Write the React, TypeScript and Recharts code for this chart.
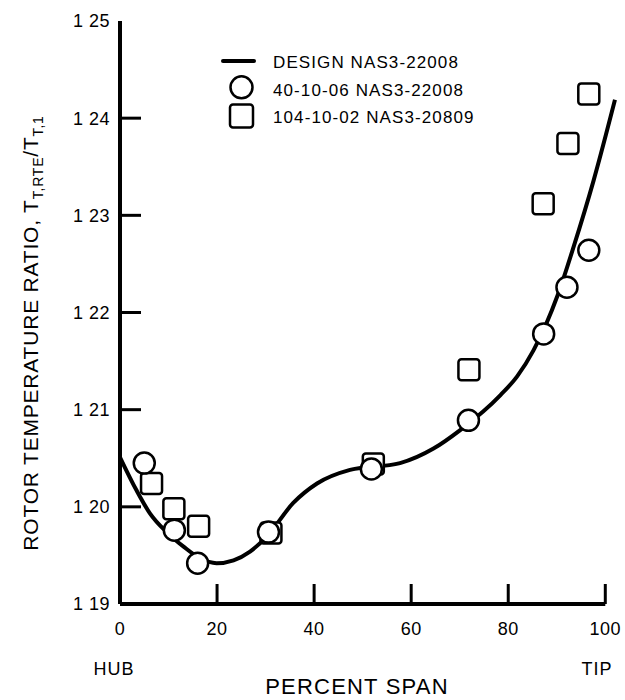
import React from "react";
import { ComposedChart, Line, Scatter, XAxis, YAxis, ReferenceLine, Legend } from "recharts";

// design curve, NAS3-22008
const designSpan = [0, 3.4, 6.2, 9.6, 13.1, 16.5, 19.9, 23.4, 26.8, 30.2, 35.7, 40.6, 47.4, 57.7, 64.6, 70.1, 78.4, 81.8, 85.2, 90.2, 93.5, 97.6, 102];
const designRatio = [1.2051, 1.2017, 1.1993, 1.1974, 1.1959, 1.1947, 1.1942, 1.1945, 1.1954, 1.1969, 1.2004, 1.2024, 1.2038, 1.2045, 1.206, 1.2079, 1.2115, 1.2134, 1.2161, 1.2218, 1.2268, 1.2336, 1.2419];

// 40-10-06 NAS3-22008 (circles)
const circleSpan = [5.0, 11.2, 16.0, 30.6, 51.8, 71.8, 87.3, 92.1, 96.6];
const circleRatio = [1.2045, 1.1976, 1.1942, 1.1974, 1.2039, 1.2089, 1.2178, 1.2226, 1.2264];

// 104-10-02 NAS3-20809 (squares)
const squareSpan = [6.5, 11.1, 16.2, 31.1, 52.2, 71.9, 87.2, 92.3, 96.6];
const squareRatio = [1.2024, 1.1998, 1.198, 1.1973, 1.2044, 1.2141, 1.2312, 1.2374, 1.2425];

const xTicks = [0, 20, 40, 60, 80, 100];
const yTicks = [1.19, 1.2, 1.21, 1.22, 1.23, 1.24, 1.25];

const legendItems = ["DESIGN NAS3-22008", "40-10-06 NAS3-22008", "104-10-02 NAS3-20809"];

const FONT = "'Liberation Sans', Arial, Helvetica, sans-serif";

const design = designSpan.map((x, i) => ({ x, y: designRatio[i] }));
const circles = circleSpan.map((x, i) => ({ x, y: circleRatio[i] }));
const squares = squareSpan.map((x, i) => ({ x, y: squareRatio[i] }));

// anchor points for the inward tick marks (drawn with a custom shape)
const xTickMarks = xTicks.filter((t) => t > 0).map((t) => ({ x: t, y: yTicks[0] }));
const yTickMarks = yTicks.filter((t, i) => i > 0 && i < yTicks.length - 1).map((t) => ({ x: xTicks[0], y: t }));

const tickFont = { fontSize: 18, fontFamily: FONT, fill: "#000", letterSpacing: 0.5 };

function YTitle() {
  const cx = 38;
  const cy = 333;
  return (
    <text
      x={cx}
      y={cy}
      transform={`rotate(-90 ${cx} ${cy})`}
      textAnchor="middle"
      fontSize={21}
      fontFamily={FONT}
      letterSpacing={0.8}
      fill="#000"
    >
      ROTOR TEMPERATURE RATIO, T
      <tspan dy={5} fontSize={14}>T,RTE</tspan>
      <tspan dy={-5}>/T</tspan>
      <tspan dy={5} fontSize={14}>T,1</tspan>
    </text>
  );
}

function XTitle() {
  return (
    <g fontFamily={FONT} fill="#000">
      <text x={114} y={675} textAnchor="middle" fontSize={18} letterSpacing={1}>
        HUB
      </text>
      <text x={597} y={675} textAnchor="middle" fontSize={18} letterSpacing={1}>
        TIP
      </text>
      <text x={357} y={694} textAnchor="middle" fontSize={22} letterSpacing={1.2}>
        PERCENT SPAN
      </text>
    </g>
  );
}

function CircleMark(props: any) {
  const { cx, cy } = props;
  return <circle cx={cx} cy={cy} r={10.5} fill="#fff" stroke="#000" strokeWidth={2.5} />;
}

function SquareMark(props: any) {
  const { cx, cy } = props;
  return <rect x={cx - 10.5} y={cy - 10.5} width={21} height={21} rx={3} fill="#fff" stroke="#000" strokeWidth={2.5} />;
}

function XTickMark(props: any) {
  const { cx, cy } = props;
  return <line x1={cx} x2={cx} y1={cy} y2={cy - 20} stroke="#000" strokeWidth={3} />;
}

function YTickMark(props: any) {
  const { cx, cy } = props;
  return <line x1={cx} x2={cx + 21} y1={cy} y2={cy} stroke="#000" strokeWidth={3} />;
}

function LegendBox() {
  const textX = 53;
  return (
    <svg width={280} height={90}>
      <line x1={3} x2={34} y1={16} y2={16} stroke="#000" strokeWidth={4} strokeLinecap="round" />
      <circle cx={21.5} cy={42.3} r={11} fill="#fff" stroke="#000" strokeWidth={2.5} />
      <rect x={10} y={59.5} width={23} height={23} rx={3} fill="#fff" stroke="#000" strokeWidth={2.5} />
      {legendItems.map((t, i) => (
        <text key={t} x={textX} y={22.5 + [0, 28.5, 55][i]} fontSize={17} fontFamily={FONT} letterSpacing={1.1} fill="#000">
          {t}
        </text>
      ))}
    </svg>
  );
}

export default function App() {
  return (
    <div style={{ position: "absolute", left: 0, top: 0, width: 625, height: 700, background: "#fff" }}>
      <ComposedChart width={625} height={700} margin={{ top: 21, right: 10, bottom: 66, left: 60 }}>
        <XAxis
          dataKey="x"
          type="number"
          domain={[0, 102]}
          ticks={xTicks}
          axisLine={false}
          tickLine={false}
          tickSize={0}
          tickMargin={18}
          height={30}
          tick={tickFont}
          interval={0}
          label={XTitle}
        />
        <YAxis
          dataKey="y"
          type="number"
          domain={[1.19, 1.25]}
          ticks={yTicks}
          axisLine={{ stroke: "#000", strokeWidth: 4 }}
          tickLine={false}
          tickSize={0}
          tickMargin={10}
          width={60}
          tick={tickFont}
          tickFormatter={(v: number) => v.toFixed(2).replace(".", " ")}
          interval={0}
          label={YTitle}
        />
        <ReferenceLine
          segment={[
            { x: 0, y: 1.19 },
            { x: 100, y: 1.19 }
          ]}
          stroke="#000"
          strokeWidth={4}
        />
        <Legend
          layout="vertical"
          align="center"
          verticalAlign="middle"
          content={LegendBox}
          wrapperStyle={{ position: "absolute", left: 220, top: 45, width: 280, height: 90 }}
        />
        <Scatter data={xTickMarks} dataKey="y" shape={XTickMark} isAnimationActive={false} legendType="none" />
        <Scatter data={yTickMarks} dataKey="y" shape={YTickMark} isAnimationActive={false} legendType="none" />
        <Line
          data={design}
          dataKey="y"
          type="monotone"
          stroke="#000"
          strokeWidth={4}
          dot={false}
          activeDot={false}
          isAnimationActive={false}
          legendType="none"
        />
        <Scatter data={squares} dataKey="y" shape={SquareMark} isAnimationActive={false} legendType="none" />
        <Scatter data={circles} dataKey="y" shape={CircleMark} isAnimationActive={false} legendType="none" />
      </ComposedChart>
    </div>
  );
}
